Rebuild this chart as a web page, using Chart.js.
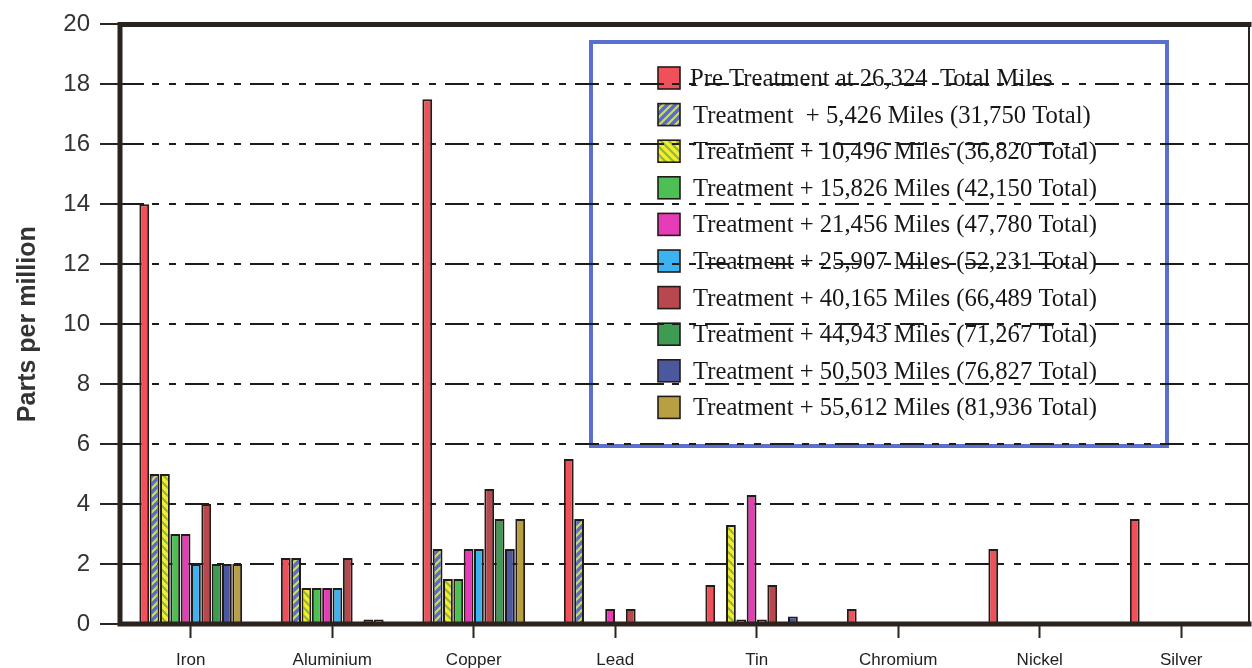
<!DOCTYPE html>
<html>
<head>
<meta charset="utf-8">
<script src="https://cdn.jsdelivr.net/npm/chart.js@4/dist/chart.umd.min.js"></script>
<style>
  html,body{margin:0;padding:0;background:#fff;}
  #c{display:block;}
</style>
</head>
<body>
<canvas id="c" width="1252" height="668"></canvas>
<script>
const categories = ['Iron','Aluminium','Copper','Lead','Tin','Chromium','Nickel','Silver'];
const seriesLabels = [
  'Pre Treatment at 26,324  Total Miles',
  'Treatment  + 5,426 Miles (31,750 Total)',
  'Treatment + 10,496 Miles (36,820 Total)',
  'Treatment + 15,826 Miles (42,150 Total)',
  'Treatment + 21,456 Miles (47,780 Total)',
  'Treatment + 25,907 Miles (52,231 Total)',
  'Treatment + 40,165 Miles (66,489 Total)',
  'Treatment + 44,943 Miles (71,267 Total)',
  'Treatment + 50,503 Miles (76,827 Total)',
  'Treatment + 55,612 Miles (81,936 Total)'
];
const preTreatment = [14, 2.2, 17.5, 5.5, 1.3, 0.5, 2.5, 3.5];
const t5426  = [5, 2.2, 2.5, 3.5, 0, 0, 0, 0];
const t10496 = [5, 1.2, 1.5, 0, 3.3, 0, 0, 0];
const t15826 = [3, 1.2, 1.5, 0, 0.15, 0, 0, 0];
const t21456 = [3, 1.2, 2.5, 0.5, 4.3, 0, 0, 0];
const t25907 = [2, 1.2, 2.5, 0, 0.15, 0, 0, 0];
const t40165 = [4, 2.2, 4.5, 0.5, 1.3, 0, 0, 0];
const t44943 = [2, 0, 3.5, 0, 0, 0, 0, 0];
const t50503 = [2, 0.15, 2.5, 0, 0.25, 0, 0, 0];
const t55612 = [2, 0.15, 3.5, 0, 0, 0, 0, 0];
const yTicks = [0,2,4,6,8,10,12,14,16,18,20];

const seriesData = [preTreatment,t5426,t10496,t15826,t21456,t25907,t40165,t44943,t50503,t55612];

function hatch(base, stripe, dir){
  const c = document.createElement('canvas');
  c.width = 8; c.height = 8;
  const g = c.getContext('2d');
  g.fillStyle = base; g.fillRect(0,0,8,8);
  g.strokeStyle = stripe; g.lineWidth = 2.2;
  g.beginPath();
  if (dir > 0){
    g.moveTo(-2,10); g.lineTo(10,-2);
    g.moveTo(-2,2); g.lineTo(2,-2);
    g.moveTo(6,10); g.lineTo(10,6);
  } else {
    g.moveTo(-2,-2); g.lineTo(10,10);
    g.moveTo(6,-2); g.lineTo(10,2);
    g.moveTo(-2,6); g.lineTo(2,10);
  }
  g.stroke();
  return g.createPattern(c,'repeat');
}

const colors = [
  '#f0505a',
  hatch('#5a6cc8','#c8dc6c',1),
  hatch('#f4ec2c','#88b848',-1),
  '#4cc055',
  '#e63cb8',
  '#3cb2f0',
  '#b8484e',
  '#3d9b52',
  '#4c589e',
  '#b8a042'
];

const datasets = seriesData.map((d,i)=>({
  label: seriesLabels[i],
  data: d,
  backgroundColor: colors[i],
  borderColor: '#231b17',
  borderWidth: 2,
  borderSkipped: 'bottom',
  categoryPercentage: 0.73,
  barPercentage: 0.95
}));

const legendPlugin = {
  id: 'boxLegend',
  beforeDraw(chart){
    const ctx = chart.ctx;
    ctx.save();
    ctx.fillStyle = '#ffffff';
    ctx.fillRect(590,41,578,406);
    ctx.strokeStyle = '#5b6fd0';
    ctx.lineWidth = 4;
    ctx.strokeRect(591,42,576,404);
    ctx.font = '26px "Liberation Serif", "Times New Roman", serif';
    const s = 404 / ctx.measureText(seriesLabels[2]).width;
    for (let i=0;i<seriesLabels.length;i++){
      const cy = 78 + i*36.6;
      ctx.fillStyle = colors[i];
      ctx.fillRect(658, cy-11, 22, 22);
      ctx.strokeStyle = '#231b17';
      ctx.lineWidth = 1.6;
      ctx.strokeRect(658, cy-11, 22, 22);
      ctx.save();
      ctx.translate(i===0 ? 690 : 693, cy + 8);
      ctx.scale(s, 1);
      ctx.fillStyle = '#161616';
      ctx.textBaseline = 'alphabetic';
      ctx.textAlign = 'left';
      ctx.fillText(seriesLabels[i], 0, 0);
      ctx.restore();
    }
    ctx.restore();
  }
};

const framePlugin = {
  id: 'frame',
  afterDatasetsDraw(chart){
    const a = chart.chartArea;
    const ctx = chart.ctx;
    ctx.save();
    ctx.strokeStyle = '#2b231e';
    ctx.lineCap = 'square';
    ctx.lineWidth = 5;
    ctx.beginPath();
    ctx.moveTo(a.left, a.bottom); ctx.lineTo(1249, a.bottom);
    ctx.moveTo(a.left, a.bottom); ctx.lineTo(a.left, a.top);
    ctx.moveTo(a.left, a.top); ctx.lineTo(1249, a.top);
    ctx.stroke();
    ctx.lineWidth = 2;
    ctx.beginPath();
    ctx.moveTo(1249, a.top); ctx.lineTo(1249, a.bottom);
    ctx.stroke();
    ctx.restore();
  }
};

new Chart(document.getElementById('c'), {
  type: 'bar',
  data: { labels: categories, datasets },
  plugins: [legendPlugin, framePlugin],
  options: {
    responsive: false,
    devicePixelRatio: 1,
    animation: false,
    layout: { padding: { top: 19, right: 0, left: 0, bottom: 0 } },
    plugins: { legend: { display: false }, tooltip: { enabled: false } },
    scales: {
      x: {
        grid: {
          offset: false,
          drawOnChartArea: false,
          drawTicks: true,
          tickLength: 14,
          tickColor: '#2b231e',
          tickWidth: 2
        },
        border: { display: false },
        ticks: {
          color: '#222',
          padding: 12,
          font: { family: 'Liberation Sans, Arial, sans-serif', size: 17 }
        },
        afterFit(scale){ scale.height = 44; }
      },
      y: {
        min: 0, max: 20,
        afterBuildTicks(scale){ scale.ticks = yTicks.map(v=>({value:v})); },
        grid: {
          color: '#1c1c1c',
          lineWidth: 2,
          tickBorderDash: [],
          tickColor: '#2b231e',
          tickWidth: 2,
          tickLength: 20
        },
        border: { display: false, dash: [24,8,7,10,7,9], dashOffset: 0 },
        ticks: {
          color: '#333',
          padding: 10,
          font: { family: 'Liberation Sans, Arial, sans-serif', size: 24 }
        },
        title: {
          display: true,
          text: 'Parts per million',
          color: '#333',
          padding: { top: 13, bottom: 0 },
          font: { family: 'Liberation Sans, Arial, sans-serif', size: 25, weight: 'bold' }
        },
        afterFit(scale){ scale.width = 120; }
      }
    }
  }
});
</script>
</body>
</html>
